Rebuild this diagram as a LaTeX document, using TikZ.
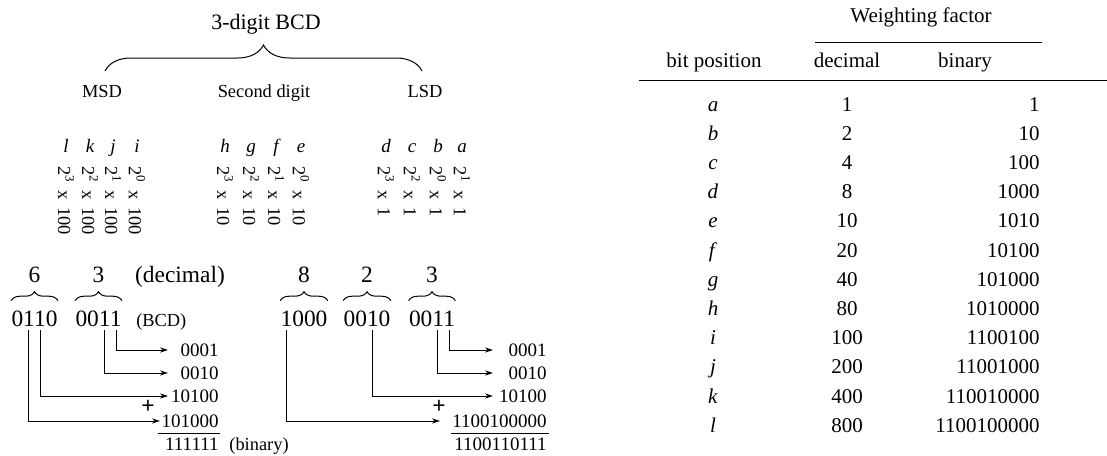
\documentclass[tikz,border=0pt]{standalone}
\usepackage{fontspec}
\setmainfont{Liberation Serif}
\usetikzlibrary{positioning,arrows.meta,calc,decorations.pathreplacing}

\begin{document}
\begin{tikzpicture}[x=0.5pt,y=-0.5pt,>={Stealth[length=4pt,width=2.6pt]},
  big/.style={inner sep=0pt,font=\fontsize{11.7}{14}\selectfont},
  res/.style={inner sep=0pt,anchor=east,font=\fontsize{9.5}{11}\selectfont},
  lbl/.style={inner sep=0pt,font=\fontsize{9.2}{11}\selectfont},
  tab/.style={inner sep=0pt,anchor=base,font=\fontsize{10.5}{12}\selectfont},
  brc/.style={decorate,decoration={brace,amplitude=4.5pt},line width=0.5pt},
  wire/.style={->,line width=0.5pt,shorten <=1.2pt}]
\useasboundingbox (0,0) rectangle (1107,455);

% 3-digit BCD, digit names and weights
\node[inner sep=0pt,anchor=base,font=\fontsize{11}{13}\selectfont] (title) at (266,29.5) {3-digit BCD};
\draw[decorate,decoration={brace,amplitude=13pt},line width=0.5pt] (105,71) -- (422,71);
\node[lbl,anchor=base] (msd) at (102,97) {MSD};
\node[lbl,anchor=base] (sec) at (264,97) {Second digit};
\node[lbl,anchor=base] (lsd) at (425,97) {LSD};
\foreach \xx/\ltr/\pw/\mul in {66/l/3/100,90/k/2/100,113/j/1/100,137/i/0/100,
  225/h/3/10,251/g/2/10,276/f/1/10,301/e/0/10,
  386/d/3/1,412/c/2/1,438/b/0/1,462/a/1/1}{
  \node[lbl,anchor=base,font=\fontsize{9.5}{11}\selectfont\itshape] (bit\ltr) at (\xx,152) {\ltr};
  \node[lbl,rotate=-90,anchor=west] (wt\ltr) at (\xx,166) {2\textsuperscript{\pw}\ \,x\ \,\mul};
}

% 63 -> binary
\node[big] (g6) at (34.5,319) {0110};
\node[big] (g3) at (98.5,319) {0011};
\node[lbl,anchor=base west] (bcd) at ([xshift=7pt]g3.base east) {(BCD)};
\draw[brc] ([yshift=5pt]g6.north west) -- ([yshift=5pt]g6.north east);
\draw[brc] ([yshift=5pt]g3.north west) -- ([yshift=5pt]g3.north east);
\node[big,above=14pt of g6] (d6) {6};
\node[big,above=14pt of g3] (d3) {3};
\node[big,anchor=base west] (decw) at ([xshift=15pt]d3.base east) {(decimal)};
\node[res] (rL1) at (219,350) {0001};
\node[res] (rL2) at (219,373) {0010};
\node[res] (rL3) at (219,396) {10100};
\node[res] (rL4) at (219,421) {101000};
\node[res] (sL) at (219,444) {111111};
\node[lbl,anchor=base west] (binw) at ([xshift=5pt]sL.base east) {(binary)};
\node[big,anchor=center] (plusL) at (148,407) {\textbf{+}};
\coordinate (tipL) at (168,0);
\coordinate (tipL4) at (160,0);
\draw[wire] ($(g3.south west)!.875!(g3.south east)$) |- (rL1 -| tipL);
\draw[wire] ($(g3.south west)!.625!(g3.south east)$) |- (rL2 -| tipL);
\draw[wire] ($(g6.south west)!.625!(g6.south east)$) |- (rL3 -| tipL);
\draw[wire] ($(g6.south west)!.375!(g6.south east)$) |- (rL4 -| tipL4);
\draw[line width=0.5pt] ([xshift=-1.5pt,yshift=-2.6pt]rL4.south west) -- ([xshift=0.5pt,yshift=-2.6pt]rL4.south east);

% 823 -> binary
\node[big] (g8) at (304,319) {1000};
\node[big] (g2) at (367,319) {0010};
\node[big] (g3b) at (432,319) {0011};
\foreach \g/\d in {g8/8,g2/2,g3b/3}{
  \draw[brc] ([yshift=5pt]\g.north west) -- ([yshift=5pt]\g.north east);
  \node[big,above=14pt of \g] (d\g) {\d};
}
\node[res] (rR1) at (547,350) {0001};
\node[res] (rR2) at (547,373) {0010};
\node[res] (rR3) at (547,396) {10100};
\node[res] (rR4) at (547,421) {1100100000};
\node[res] (sR) at (547,444) {1100110111};
\node[big,anchor=center] (plusR) at (439,407) {\textbf{+}};
\coordinate (tipR) at (493,0);
\coordinate (tipR4) at (440,0);
\draw[wire] ($(g3b.south west)!.875!(g3b.south east)$) |- (rR1 -| tipR);
\draw[wire] ($(g3b.south west)!.625!(g3b.south east)$) |- (rR2 -| tipR);
\draw[wire] ($(g2.south west)!.625!(g2.south east)$) |- (rR3 -| tipR);
\draw[wire] ($(g8.south west)!.125!(g8.south east)$) |- (rR4 -| tipR4);
\draw[line width=0.5pt] ([xshift=-0.5pt,yshift=-2.6pt]rR4.south west) -- ([xshift=1pt,yshift=-2.6pt]rR4.south east);

% weighting table
\node[tab] (wf) at (921,22) {Weighting factor};
\draw[line width=0.5pt] (815,42) -- (1042,42);
\node[tab] (hpos) at (714,67) {bit position};
\node[tab] (hdec) at (847,67) {decimal};
\node[tab] (hbin) at (965,67) {binary};
\draw[line width=0.5pt] (639,80) -- (1107,80);
\foreach \ltr/\dv/\bv [count=\n from 0] in {a/1/1,b/2/10,c/4/100,d/8/1000,e/10/1010,
  f/20/10100,g/40/101000,h/80/1010000,i/100/1100100,j/200/11001000,
  k/400/110010000,l/800/1100100000}{
  \node[tab] (pos\ltr) at (713,111+29.2*\n) {\textit{\ltr}};
  \node[tab] (dec\ltr) at (847,111+29.2*\n) {\dv};
  \node[tab,anchor=base east] (bin\ltr) at (1040,111+29.2*\n) {\bv};
}
\end{tikzpicture}
\end{document}
